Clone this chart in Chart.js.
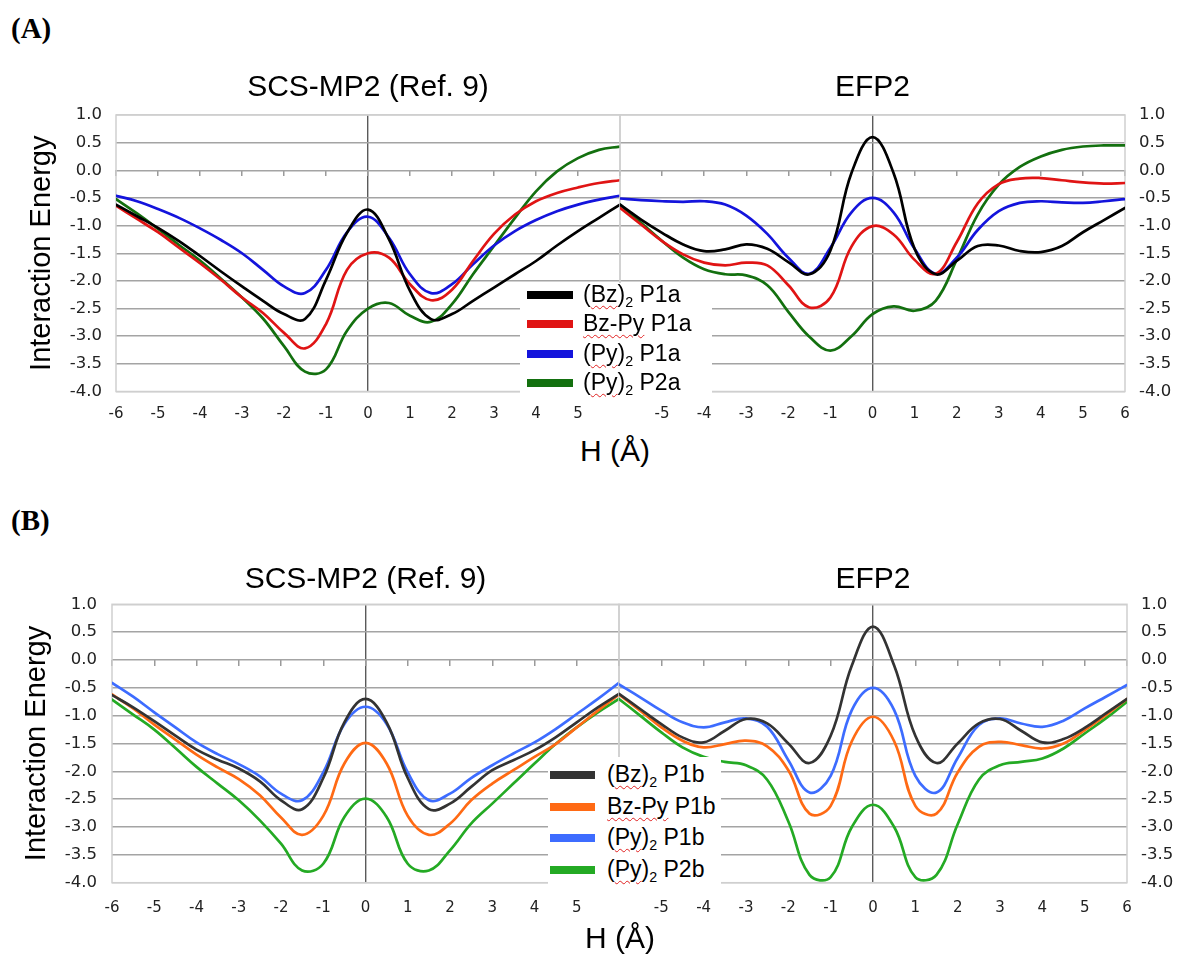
<!DOCTYPE html>
<html>
<head>
<meta charset="utf-8">
<script src="https://cdn.jsdelivr.net/npm/chart.js@4.4.1/dist/chart.umd.min.js"></script>
<style>
  html, body { margin: 0; padding: 0; background: #fff; }
  #page { position: relative; width: 1179px; height: 957px; overflow: hidden; }
  .box { position: absolute; }
  .tag { position: absolute; left: 11px; font: bold 29px 'Liberation Serif', serif; color: #000; }
  .xtitle { position: absolute; width: 200px; text-align: center; font: 30px 'Liberation Sans', Arial, sans-serif; color: #000; }
  .legend { position: absolute; background: #fff; z-index: 5; }
  .legend .row { position: absolute; left: 0; height: 28px; line-height: 28px; white-space: nowrap;
                 font: 23px 'Liberation Sans', Arial, sans-serif; color: #000; }
  .legend .sw { position: absolute; top: 10px; height: 8px; }
  .legend .txt { position: absolute; top: 0; }
  .legend sub { font-size: 0.62em; vertical-align: -0.35em; line-height: 0; }
  .sp { text-decoration: underline wavy #e02020; text-decoration-thickness: 1px; text-underline-offset: 3px; }
</style>
</head>
<body>
<div id="page">
  <div class="tag" style="top:12px">(A)</div>
  <div class="tag" style="top:504px">(B)</div>

  <div class="box" id="boxAL"><canvas id="chartAL"></canvas></div>
  <div class="box" id="boxAR"><canvas id="chartAR"></canvas></div>
  <div class="box" id="boxBL"><canvas id="chartBL"></canvas></div>
  <div class="box" id="boxBR"><canvas id="chartBR"></canvas></div>

  <div class="xtitle" style="left:515px; top:434px">H (Å)</div>
  <div class="xtitle" style="left:520px; top:921px">H (Å)</div>

  <div class="legend" id="legendA"></div>
  <div class="legend" id="legendB"></div>
</div>

<script>
// ---- data ----
const H = [-6, -5.5, -5, -4.5, -4, -3.5, -3, -2.5, -2, -1.5, -1, -0.5, 0, 0.5, 1, 1.5, 2, 2.5, 3, 3.5, 4, 4.5, 5, 5.5, 6];
const xTickValues = [-6, -5, -4, -3, -2, -1, 0, 1, 2, 3, 4, 5, 6];
const yTickValues = [1.0, 0.5, 0.0, -0.5, -1.0, -1.5, -2.0, -2.5, -3.0, -3.5, -4.0];

const panelTitles = ['SCS-MP2 (Ref. 9)', 'EFP2'];
const yTitle = 'Interaction Energy';
const labelsA = ['(Bz)2 P1a', 'Bz-Py P1a', '(Py)2 P1a', '(Py)2 P2a'];
const labelsB = ['(Bz)2 P1b', 'Bz-Py P1b', '(Py)2 P1b', '(Py)2 P2b'];

// (A) SCS-MP2
const scsA_bz   = [-0.62,-0.83,-1.04,-1.28,-1.55,-1.83,-2.10,-2.36,-2.60,-2.69,-1.98,-1.13,-0.71,-1.25,-2.18,-2.69,-2.60,-2.36,-2.12,-1.88,-1.64,-1.36,-1.10,-0.86,-0.62];
const scsA_bzpy = [-0.64,-0.88,-1.12,-1.40,-1.68,-1.98,-2.30,-2.58,-2.94,-3.22,-2.78,-1.80,-1.50,-1.58,-2.06,-2.35,-2.16,-1.64,-1.15,-0.80,-0.56,-0.41,-0.31,-0.23,-0.18];
const scsA_py1  = [-0.46,-0.56,-0.70,-0.86,-1.05,-1.26,-1.50,-1.80,-2.10,-2.22,-1.80,-1.12,-0.84,-1.22,-1.88,-2.22,-2.06,-1.70,-1.36,-1.10,-0.90,-0.74,-0.62,-0.53,-0.46];
const scsA_py2  = [-0.52,-0.78,-1.06,-1.35,-1.63,-1.96,-2.30,-2.68,-3.18,-3.64,-3.60,-2.90,-2.50,-2.40,-2.63,-2.74,-2.42,-1.88,-1.37,-0.86,-0.38,-0.02,0.22,0.37,0.43];

// (A) EFP2
const efpA_bz   = [-0.62,-0.89,-1.13,-1.34,-1.46,-1.43,-1.34,-1.42,-1.66,-1.88,-1.45,-0.05,0.60,-0.05,-1.42,-1.88,-1.64,-1.37,-1.36,-1.46,-1.48,-1.37,-1.12,-0.90,-0.68];
const efpA_bzpy = [-0.68,-0.98,-1.28,-1.52,-1.67,-1.72,-1.67,-1.72,-2.08,-2.48,-2.30,-1.38,-1.01,-1.16,-1.62,-1.87,-1.30,-0.60,-0.25,-0.15,-0.14,-0.18,-0.22,-0.24,-0.23];
const efpA_py1  = [-0.51,-0.54,-0.56,-0.57,-0.56,-0.62,-0.82,-1.15,-1.58,-1.87,-1.40,-0.76,-0.50,-0.76,-1.42,-1.87,-1.58,-1.08,-0.74,-0.59,-0.56,-0.58,-0.59,-0.56,-0.52];
const efpA_py2  = [-0.62,-0.95,-1.28,-1.58,-1.79,-1.88,-1.90,-2.08,-2.56,-3.01,-3.26,-3.00,-2.60,-2.46,-2.54,-2.36,-1.62,-0.80,-0.26,0.06,0.25,0.37,0.43,0.45,0.45];

// (B) SCS-MP2
const scsB_bz   = [-0.63,-0.85,-1.10,-1.36,-1.61,-1.79,-1.95,-2.18,-2.52,-2.68,-2.12,-1.12,-0.70,-1.12,-2.12,-2.68,-2.58,-2.28,-1.98,-1.80,-1.62,-1.39,-1.12,-0.85,-0.61];
const scsB_bzpy = [-0.62,-0.87,-1.16,-1.43,-1.70,-1.93,-2.14,-2.43,-2.83,-3.14,-2.80,-1.86,-1.49,-1.86,-2.80,-3.14,-2.94,-2.52,-2.22,-1.98,-1.74,-1.51,-1.21,-0.91,-0.62];
const scsB_py1  = [-0.41,-0.66,-0.94,-1.21,-1.48,-1.69,-1.87,-2.09,-2.40,-2.52,-2.02,-1.15,-0.84,-1.15,-2.02,-2.52,-2.40,-2.12,-1.89,-1.68,-1.48,-1.24,-0.97,-0.70,-0.41];
const scsB_py2  = [-0.71,-0.98,-1.25,-1.58,-1.92,-2.22,-2.52,-2.88,-3.30,-3.78,-3.66,-2.82,-2.49,-2.82,-3.66,-3.78,-3.42,-2.94,-2.58,-2.22,-1.86,-1.51,-1.21,-0.94,-0.70];

// (B) EFP2
const efpB_bz   = [-0.61,-0.88,-1.15,-1.39,-1.48,-1.27,-1.06,-1.14,-1.50,-1.85,-1.36,-0.10,0.60,-0.10,-1.36,-1.85,-1.50,-1.14,-1.06,-1.27,-1.48,-1.42,-1.22,-0.96,-0.70];
const efpB_bzpy = [-0.62,-0.91,-1.21,-1.45,-1.57,-1.51,-1.45,-1.55,-1.98,-2.76,-2.62,-1.46,-1.02,-1.46,-2.62,-2.76,-2.02,-1.56,-1.47,-1.53,-1.59,-1.50,-1.26,-0.99,-0.70];
const efpB_py1  = [-0.44,-0.67,-0.91,-1.12,-1.21,-1.12,-1.05,-1.20,-1.80,-2.38,-2.08,-0.90,-0.50,-0.90,-2.08,-2.38,-1.76,-1.17,-1.05,-1.14,-1.20,-1.09,-0.87,-0.66,-0.45];
const efpB_py2  = [-0.70,-1.00,-1.30,-1.57,-1.74,-1.83,-1.89,-2.15,-2.90,-3.86,-3.90,-3.00,-2.60,-3.00,-3.90,-3.86,-2.95,-2.15,-1.89,-1.83,-1.77,-1.59,-1.32,-1.05,-0.75];

// ---- styles ----
const colorsA = ['#000000', '#e01414', '#1414dc', '#13700f'];
const colorsB = ['#333333', '#ff6a14', '#3d6cff', '#24aa24'];

Chart.defaults.font.family = "'DejaVu Sans', Verdana, sans-serif";
Chart.defaults.color = '#222';

const plotFrame = {
  id: 'plotFrame',
  beforeDatasetsDraw(chart) {
    const { ctx, chartArea: a } = chart;
    ctx.save();
    ctx.strokeStyle = '#cfcfcf';
    ctx.lineWidth = 1.5;
    ctx.strokeRect(a.left, a.top, a.width, a.height);
    ctx.restore();
  }
};

// p.plotL / p.plotR: wanted plot edges on the page; the inner canvas edge sits
// one tick-padding away, because Chart.js reserves that much beside the end labels.
function makePanel(canvasId, boxId, p) {
  const isLeft = p.side === 'left';
  const left = isLeft ? 0 : p.plotL - p.xPad;
  const width = isLeft ? p.plotR + p.xPad : 1179 - left;

  const box = document.getElementById(boxId);
  box.style.left = left + 'px';
  box.style.top = p.top + 'px';
  const el = document.getElementById(canvasId);
  el.width = width; el.height = p.height;
  el.style.width = width + 'px'; el.style.height = p.height + 'px';

  const datasets = p.series.map((vals, i) => ({
    label: p.labels[i],
    data: H.map((h, k) => ({ x: h, y: vals[k] })),
    xAxisID: 'x',
    yAxisID: 'y',
    borderColor: p.colors[i],
    borderWidth: 2.7,
    pointRadius: 0,
    tension: 0.4,
    fill: false,
    borderCapStyle: 'round'
  }));

  return new Chart(el.getContext('2d'), {
    type: 'line',
    data: { datasets },
    plugins: [plotFrame],
    options: {
      responsive: false,
      animation: false,
      layout: { padding: 0 },
      plugins: {
        legend: { display: false },
        tooltip: { enabled: false },
        title: {
          display: true,
          text: p.title,
          fullSize: false,
          color: '#000',
          font: { family: "'Liberation Sans', Arial, sans-serif", size: 30, weight: 'normal' },
          padding: { top: p.titleTop, bottom: p.titleBottom }
        }
      },
      scales: {
        x: {
          type: 'linear', position: 'bottom', min: -6, max: 6,
          afterBuildTicks: ax => { ax.ticks = xTickValues.map(v => ({ value: v })); },
          afterFit: ax => { ax.height = p.xAxisH; },
          ticks: {
            padding: p.xPad,
            font: { size: 15 },
            callback: v => (isLeft && v === 6) || (!isLeft && v === -6) ? '' : String(v)
          },
          grid: {
            drawTicks: false,
            color: ctx => ctx.tick && ctx.tick.value === 0 ? '#5a5a5a' : 'rgba(0,0,0,0)',
            lineWidth: 1.4
          },
          border: { display: false }
        },
        x0: {
          type: 'linear', position: { y: 0 }, min: -6, max: 6,
          afterBuildTicks: ax => { ax.ticks = xTickValues.map(v => ({ value: v })); },
          ticks: { display: false },
          grid: { drawOnChartArea: false, drawTicks: true, tickLength: 6, color: '#9a9a9a', lineWidth: 1.5 },
          border: { display: false }
        },
        y: {
          type: 'linear', position: p.side, min: -4, max: 1,
          afterBuildTicks: ax => { ax.ticks = yTickValues.map(v => ({ value: v })); },
          afterFit: ax => { ax.width = p.yAxisW; },
          ticks: {
            padding: p.yPad,
            font: { size: 16.5 },
            callback: v => Number(v).toFixed(1)
          },
          grid: {
            drawTicks: false,
            color: ctx => ctx.tick && (ctx.tick.value === 1 || ctx.tick.value === -4) ? '#cfcfcf' : '#a4a4a4',
            lineWidth: 1.5
          },
          border: { display: false },
          title: {
            display: isLeft,
            text: yTitle,
            color: '#000',
            font: { family: "'Liberation Sans', Arial, sans-serif", size: 29 },
            padding: { top: p.yTitlePad, bottom: 0 }
          }
        }
      }
    }
  });
}

// panel (A)
makePanel('chartAL', 'boxAL', {
  side: 'left', title: panelTitles[0], labels: labelsA, colors: colorsA,
  series: [scsA_bz, scsA_bzpy, scsA_py1, scsA_py2],
  plotR: 620, top: 60, height: 372,
  titleTop: 10, titleBottom: 9, xAxisH: 40.5, yAxisW: 116, xPad: 14, yPad: 14, yTitlePad: 24.6
});
makePanel('chartAR', 'boxAR', {
  side: 'right', title: panelTitles[1], labels: labelsA, colors: colorsA,
  series: [efpA_bz, efpA_bzpy, efpA_py1, efpA_py2],
  plotL: 620, top: 60, height: 372,
  titleTop: 10, titleBottom: 9, xAxisH: 40.5, yAxisW: 54, xPad: 14, yPad: 14, yTitlePad: 0
});

// panel (B)
makePanel('chartBL', 'boxBL', {
  side: 'left', title: panelTitles[0], labels: labelsB, colors: colorsB,
  series: [scsB_bz, scsB_bzpy, scsB_py1, scsB_py2],
  plotR: 619, top: 548, height: 376,
  titleTop: 14, titleBottom: 6.3, xAxisH: 41.3, yAxisW: 112, xPad: 16, yPad: 15, yTitlePad: 19.6
});
makePanel('chartBR', 'boxBR', {
  side: 'right', title: panelTitles[1], labels: labelsB, colors: colorsB,
  series: [efpB_bz, efpB_bzpy, efpB_py1, efpB_py2],
  plotL: 619, top: 548, height: 376,
  titleTop: 14, titleBottom: 6.3, xAxisH: 41.3, yAxisW: 52, xPad: 16, yPad: 14, yTitlePad: 0
});

// ---- legends (HTML overlay, like the original spreadsheet legend box) ----
function fmtLabel(label) {
  return label
    .replace(/(Bz-Py|Bz|Py)/g, '<span class="sp">$1</span>')
    .replace(')2', ')<sub>2</sub>');
}

function buildLegend(id, labels, colors, g) {
  const el = document.getElementById(id);
  Object.assign(el.style, { left: g.left + 'px', top: g.top + 'px', width: g.width + 'px', height: g.height + 'px' });
  el.innerHTML = labels.map((lab, i) => {
    const top = g.firstRow + i * g.rowStep - 14;
    return `<div class="row" style="top:${top}px">` +
      `<div class="sw" style="left:${g.swLeft}px;width:${g.swWidth}px;background:${colors[i]}"></div>` +
      `<div class="txt" style="left:${g.txtLeft}px">${fmtLabel(lab)}</div></div>`;
  }).join('');
}

buildLegend('legendA', labelsA, colorsA, { left: 520, top: 283, width: 192, height: 116, firstRow: 12, rowStep: 29.4, swLeft: 7, swWidth: 46, txtLeft: 63 });
buildLegend('legendB', labelsB, colorsB, { left: 548, top: 757, width: 173, height: 133, firstRow: 18, rowStep: 31.7, swLeft: 2, swWidth: 45, txtLeft: 59 });
</script>
</body>
</html>
